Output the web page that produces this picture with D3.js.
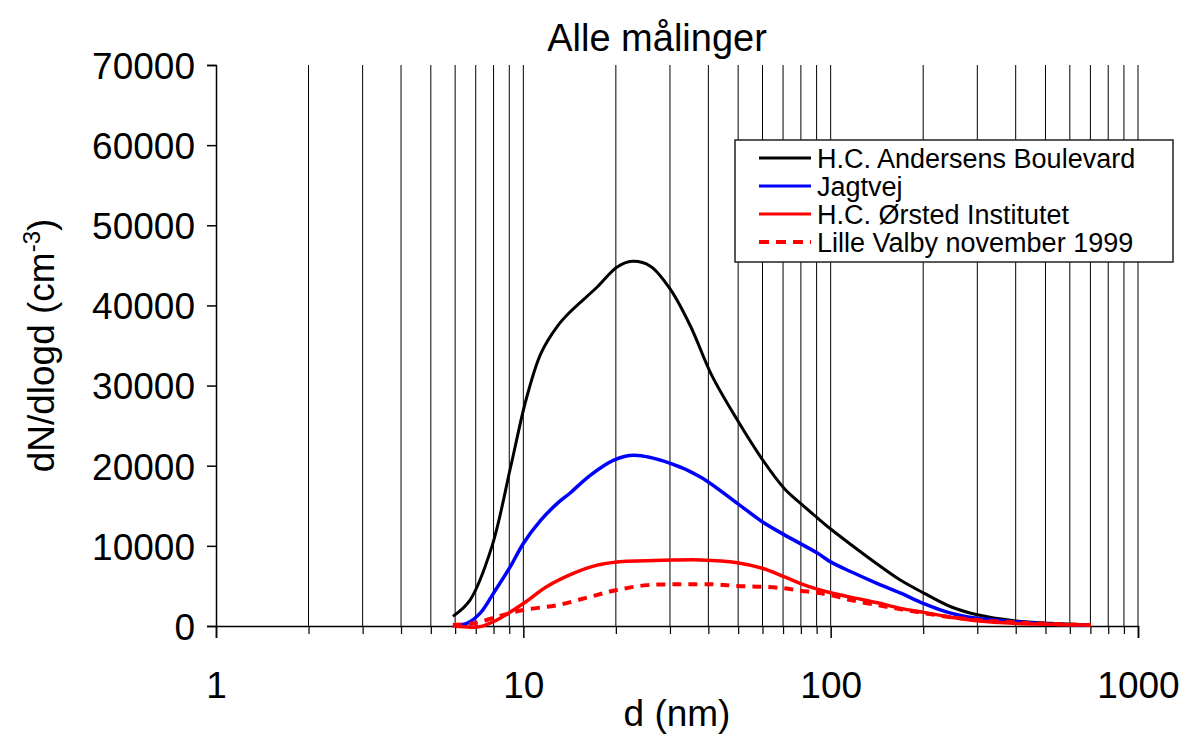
<!DOCTYPE html>
<html>
<head>
<meta charset="utf-8">
<script src="https://cdn.jsdelivr.net/npm/d3@7"></script>
<style>
  body { margin: 0; background: #fff; }
  text { font-family: 'Liberation Sans', Arial, sans-serif; fill: #000; }
</style>
</head>
<body>
<svg id="chart" width="1184" height="738"></svg>
<script>
// Data
const seriesNames = ['H.C. Andersens Boulevard', 'Jagtvej', 'H.C. Ørsted Institutet', 'Lille Valby november 1999'];
const seriesColors = ['#000000', '#0000ff', '#ff0000', '#ff0000'];

const andersensD = [5.9, 6.7, 7.9, 9.1, 10.2, 11.4, 12.9, 14.2, 17.4, 20.2, 22.6, 25.9, 30.1, 35, 41, 49.7, 59.9, 70.5, 79.8, 90.5, 100, 116, 142, 169, 201, 246, 300, 395, 521, 703];
const andersensN = [1200, 3200, 9900, 19900, 28200, 34000, 37400, 39200, 42300, 44800, 45500, 44900, 42000, 37400, 31300, 25700, 20800, 17200, 15300, 13500, 12100, 10200, 7700, 5700, 4100, 2400, 1400, 660, 330, 120];

const jagtvejD = [5.9, 6.55, 7.24, 8.0, 9.07, 10, 11.4, 12.9, 14.2, 16.5, 19.7, 22.9, 30.1, 37.7, 49.7, 59.9, 70.5, 90.5, 100, 116, 142, 169, 201, 246, 300, 395, 521, 703];
const jagtvejN = [120, 330, 1600, 4100, 7400, 10300, 13200, 15300, 16600, 18800, 20700, 21300, 20300, 18600, 15300, 13000, 11400, 9100, 8000, 6800, 5300, 4100, 2800, 1600, 960, 540, 250, 80];

const oerstedD = [5.9, 6.4, 7.24, 8.2, 10, 11.9, 14.6, 17.4, 20.2, 28.6, 37.7, 49.7, 59.9, 70.5, 79.8, 90.5, 100, 116, 142, 169, 201, 246, 300, 395, 521, 703];
const oerstedN = [0, -100, -80, 750, 2800, 4900, 6600, 7600, 8000, 8200, 8250, 7900, 7200, 6150, 5300, 4600, 4150, 3600, 2900, 2200, 1700, 1100, 660, 330, 210, 120];

const valbyD = [5.9, 6.9, 8.2, 10, 12.9, 16.5, 20.2, 25.3, 32.5, 41.7, 49.7, 59.9, 70.5, 79.8, 90.5, 100, 116, 142, 169, 201, 246, 300, 395, 521, 703];
const valbyN = [120, 330, 1150, 2000, 2600, 3650, 4500, 5100, 5200, 5200, 5000, 4900, 4700, 4400, 4150, 3850, 3250, 2600, 2100, 1600, 1100, 750, 460, 250, 120];

const yTicks = [0, 10000, 20000, 30000, 40000, 50000, 60000, 70000];
const xMajor = [1, 10, 100, 1000];

const series = [
  { name: seriesNames[0], color: seriesColors[0], d: andersensD, n: andersensN, width: 3, dash: null },
  { name: seriesNames[1], color: seriesColors[1], d: jagtvejD, n: jagtvejN, width: 3.5, dash: null },
  { name: seriesNames[2], color: seriesColors[2], d: oerstedD, n: oerstedN, width: 3.5, dash: null },
  { name: seriesNames[3], color: seriesColors[3], d: valbyD, n: valbyN, width: 4, dash: '9,7' }
];

const margin = { top: 65, left: 216, right: 46, bottom: 112 };
const width = 1184 - margin.left - margin.right;
const height = 738 - margin.top - margin.bottom;

const svg = d3.select('#chart');
const g = svg.append('g').attr('transform', `translate(${margin.left},${margin.top})`);

const x = d3.scaleLog().domain([1, 1000]).range([0, width]);
const y = d3.scaleLinear().domain([0, 70000]).range([height, 0]);

// minor log ticks 2..9, 20..90, 200..900 plus the decades
const allTicks = [];
for (let dec = 1; dec < 1000; dec *= 10) {
  for (let k = 1; k < 10; k++) allTicks.push(dec * k);
}
allTicks.push(1000);
const minorTicks = allTicks.filter(t => !xMajor.includes(t));

// vertical gridlines
g.append('g')
  .selectAll('line')
  .data(allTicks.filter(t => t > 1))
  .enter().append('line')
  .attr('x1', d => x(d)).attr('x2', d => x(d))
  .attr('y1', 0).attr('y2', height)
  .attr('stroke', '#000')
  .attr('stroke-width', 1);

// y axis
const yAxis = g.append('g')
  .call(d3.axisLeft(y).tickValues(yTicks).tickSize(9).tickPadding(12).tickFormat(d3.format('d')));
yAxis.select('.domain').attr('stroke', '#000').attr('stroke-width', 1.5);
yAxis.selectAll('.tick line').attr('stroke-width', 1.5);
yAxis.selectAll('.tick text').attr('font-size', 37).attr('font-family', 'Liberation Sans, Arial, sans-serif').attr('dy', '0.36em');

// x axis: major ticks with labels, minor ticks without
const xAxis = g.append('g')
  .attr('transform', `translate(0,${height})`)
  .call(d3.axisBottom(x).tickValues(xMajor).tickSize(12).tickPadding(34).tickFormat(d3.format('d')));
xAxis.select('.domain').attr('stroke-width', 1.5);
xAxis.selectAll('.tick line').attr('stroke-width', 1.5);
xAxis.selectAll('.tick text').attr('font-size', 37).attr('font-family', 'Liberation Sans, Arial, sans-serif');

g.append('g')
  .attr('transform', `translate(0,${height})`)
  .call(d3.axisBottom(x).tickValues(minorTicks).tickSize(8).tickFormat(''))
  .call(a => a.select('.domain').remove())
  .selectAll('.tick line').attr('stroke-width', 1.2);

// curves
const line = d3.line()
  .x(p => x(p[0]))
  .y(p => y(p[1]))
  .curve(d3.curveCatmullRom.alpha(0.5));

series.forEach(s => {
  g.append('path')
    .datum(s.d.map((d, i) => [d, s.n[i]]))
    .attr('fill', 'none')
    .attr('stroke', s.color)
    .attr('stroke-width', s.width)
    .attr('stroke-dasharray', s.dash)
    .attr('stroke-linejoin', 'round')
    .attr('d', line);
});

// title
svg.append('text')
  .attr('x', margin.left + width / 2 - 20)
  .attr('y', 51)
  .attr('text-anchor', 'middle')
  .attr('font-size', 38)
  .text('Alle målinger');

// x title
svg.append('text')
  .attr('x', margin.left + width / 2)
  .attr('y', 726)
  .attr('text-anchor', 'middle')
  .attr('font-size', 37)
  .text('d (nm)');

// y title
const yTitle = svg.append('text')
  .attr('transform', `translate(54,${margin.top + height / 2}) rotate(-90)`)
  .attr('text-anchor', 'middle')
  .attr('font-size', 37);
yTitle.append('tspan').text('dN/dlogd (cm');
yTitle.append('tspan').attr('font-size', 24).attr('dy', -14).text('-3');
yTitle.append('tspan').attr('dy', 14).text(')');

// legend
const legend = svg.append('g').attr('transform', 'translate(735,140)');
legend.append('rect')
  .attr('width', 438).attr('height', 122)
  .attr('fill', '#fff')
  .attr('stroke', '#222')
  .attr('stroke-width', 1.5);

const rowY = d3.scalePoint().domain(seriesNames).range([18, 102]);

const rows = legend.selectAll('g.row')
  .data(series)
  .enter().append('g')
  .attr('class', 'row')
  .attr('transform', d => `translate(0,${rowY(d.name)})`);

rows.append('line')
  .attr('x1', 24).attr('x2', 76)
  .attr('stroke', d => d.color)
  .attr('stroke-width', d => d.dash ? 4 : 3)
  .attr('stroke-dasharray', d => d.dash ? '10,7' : null);

rows.append('text')
  .attr('x', 82)
  .attr('dy', '0.36em')
  .attr('font-size', 27)
  .text(d => d.name);
</script>
</body>
</html>
